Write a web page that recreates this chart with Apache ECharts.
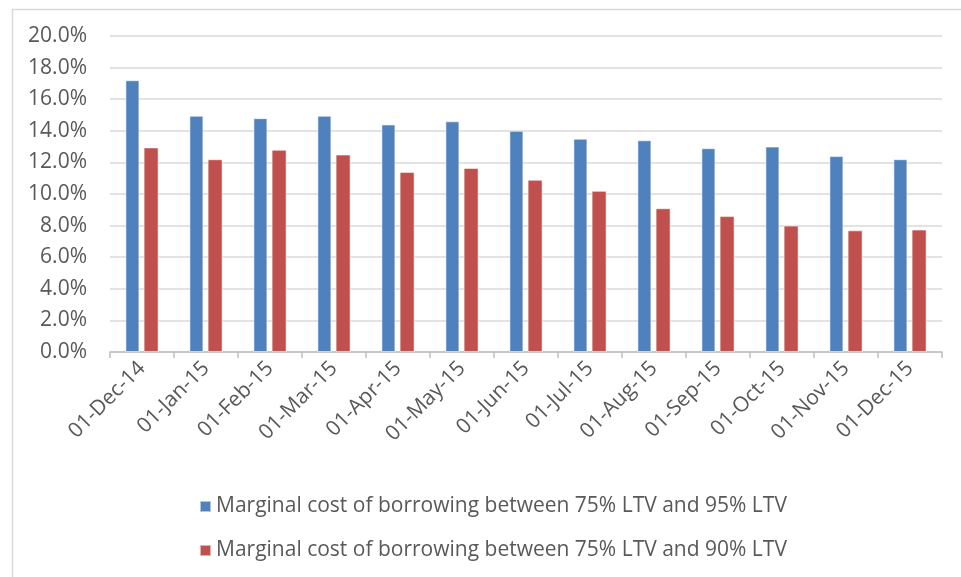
<!DOCTYPE html>
<html>
<head>
<meta charset="utf-8">
<script src="https://cdn.jsdelivr.net/npm/echarts@6/dist/echarts.min.js"></script>
<style>
  html, body { margin: 0; padding: 0; background: #ffffff; }
  #chart { width: 961px; height: 577px; }
</style>
</head>
<body>
<div id="chart"></div>
<script>
// Monthly dates shown on the category axis
const categories = ['01-Dec-14', '01-Jan-15', '01-Feb-15', '01-Mar-15', '01-Apr-15', '01-May-15',
  '01-Jun-15', '01-Jul-15', '01-Aug-15', '01-Sep-15', '01-Oct-15', '01-Nov-15', '01-Dec-15'];

// Marginal cost of borrowing, in percent
const cost75to95 = [17.2, 14.95, 14.8, 14.95, 14.4, 14.6, 14.0, 13.5, 13.4, 12.9, 13.0, 12.4, 12.2];
const cost75to90 = [12.95, 12.2, 12.8, 12.5, 11.4, 11.65, 10.9, 10.2, 9.1, 8.6, 8.0, 7.7, 7.75];

const seriesNames = [
  'Marginal cost of borrowing between 75% LTV and 95% LTV',
  'Marginal cost of borrowing between 75% LTV and 90% LTV'
];

const yTicks = { min: 0, max: 20, interval: 2 };

const font = '"Open Sans", "Liberation Sans", sans-serif';
const textColor = '#595959';

const chart = echarts.init(document.getElementById('chart'), null, { renderer: 'canvas' });

chart.setOption({
  backgroundColor: '#ffffff',
  animation: false,
  graphic: [{
    type: 'rect',
    left: 10, top: 7,
    shape: { width: 1000, height: 620 },
    style: { fill: 'none', stroke: '#d9d9d9', lineWidth: 1.5 },
    silent: true,
    z: -1
  }],
  grid: { left: 110, right: 19, top: 36, bottom: 225 },
  legend: {
    orient: 'vertical',
    left: 194,
    top: 491,
    itemWidth: 11,
    itemHeight: 11,
    itemGap: 23,
    icon: 'rect',
    textStyle: { fontFamily: font, fontSize: 21, color: textColor },
    data: seriesNames
  },
  xAxis: {
    type: 'category',
    data: categories,
    boundaryGap: true,
    axisLine: { show: true, lineStyle: { color: '#bfbfbf', width: 1.5 } },
    axisTick: { show: true, length: 6, alignWithLabel: false, lineStyle: { color: '#bfbfbf', width: 1.5 } },
    axisLabel: {
      rotate: 45,
      interval: 0,
      margin: 13,
      fontFamily: font,
      fontSize: 21,
      color: textColor
    }
  },
  yAxis: {
    type: 'value',
    min: yTicks.min,
    max: yTicks.max,
    interval: yTicks.interval,
    axisLine: { show: false },
    axisTick: { show: false },
    splitLine: { lineStyle: { color: '#d9d9d9', width: 1.5 } },
    axisLabel: {
      margin: 23,
      fontFamily: font,
      fontSize: 21,
      color: textColor,
      formatter: v => v.toFixed(1) + '%'
    }
  },
  series: [
    {
      name: seriesNames[0],
      type: 'bar',
      data: cost75to95,
      barWidth: 14,
      barGap: '30%',
      itemStyle: { color: '#4f81bd', borderColor: 'rgba(255,255,255,0.55)', borderWidth: 1 }
    },
    {
      name: seriesNames[1],
      type: 'bar',
      data: cost75to90,
      barWidth: 15,
      barGap: '30%',
      itemStyle: { color: '#c0504d', borderColor: 'rgba(255,255,255,0.55)', borderWidth: 1 }
    }
  ]
});
</script>
</body>
</html>
